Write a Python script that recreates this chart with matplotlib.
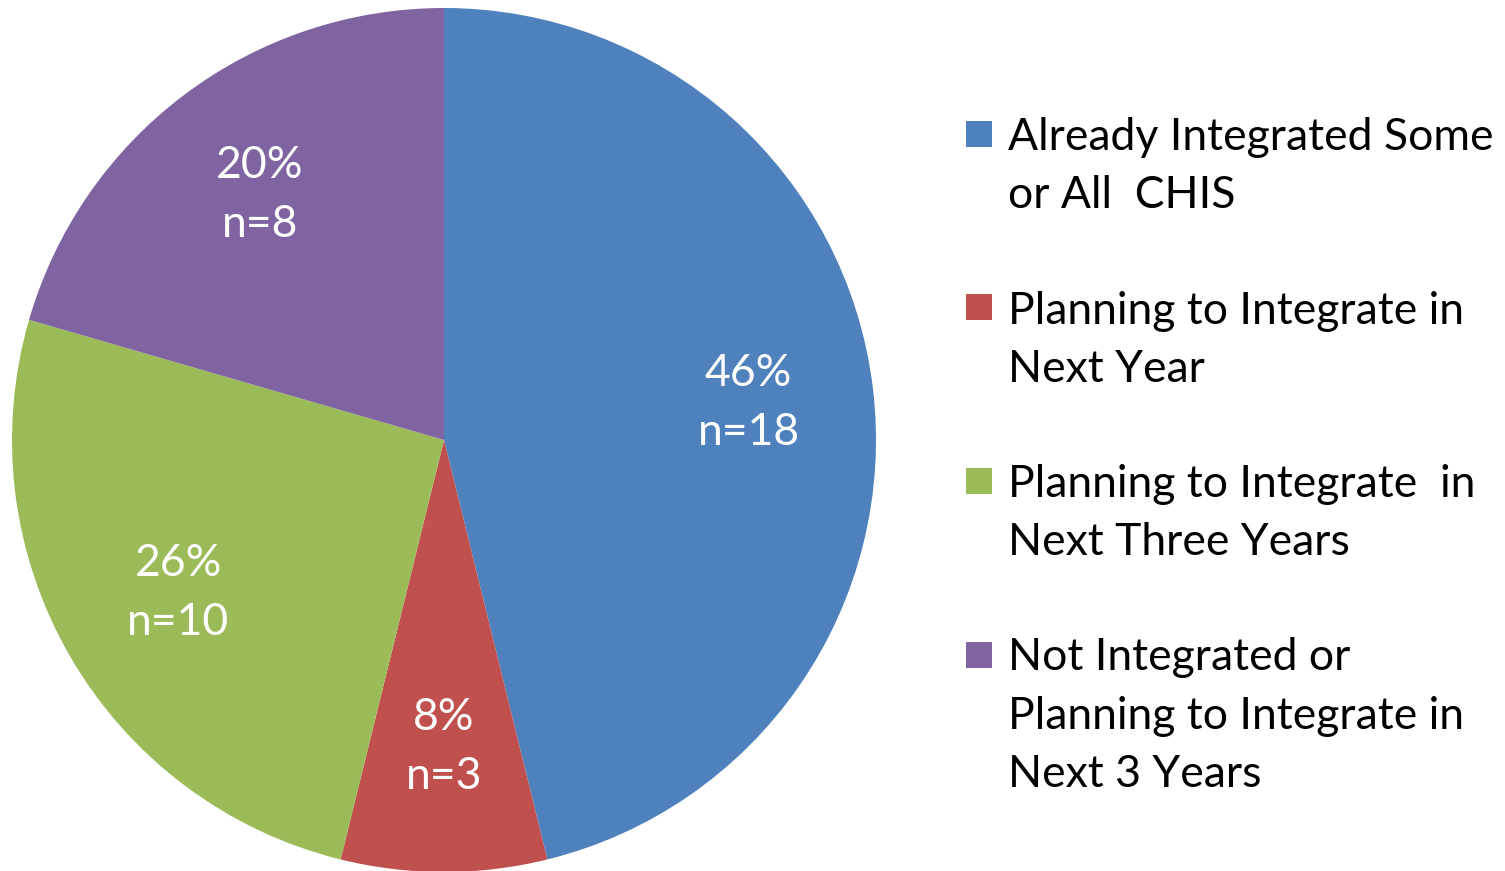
import numpy as np
import matplotlib
matplotlib.use("Agg")
import matplotlib.pyplot as plt
from matplotlib.patches import Rectangle

# Integration status of CHIS (respondent counts and reported shares)
categories = [
    "Already Integrated Some\nor All  CHIS",
    "Planning to Integrate in\nNext Year",
    "Planning to Integrate  in\nNext Three Years",
    "Not Integrated or\nPlanning to Integrate in\nNext 3 Years",
]
counts = [18, 3, 10, 8]
percents = [46, 8, 26, 20]
colors = ["#4F81BD", "#C0504D", "#9BBB59", "#8064A2"]

W, H = 1505, 871
FONT = "Lato"
FS = 32

plt.rcParams["font.family"] = [FONT, "DejaVu Sans"]

fig = plt.figure(figsize=(W / 100, H / 100), dpi=100)
fig.patch.set_facecolor("white")

# pie centred at (444, 440) px with radius 432 px
cx, cy, r = 444, 440, 432
ax = fig.add_axes([(cx - r) / W, (H - cy - r) / H, 2 * r / W, 2 * r / H])

wedges, _, autotexts = ax.pie(
    counts,
    colors=colors,
    startangle=90,
    counterclock=False,
    autopct="%.0f%%",
    pctdistance=0.71,
    radius=1.0,
    wedgeprops=dict(linewidth=0),
    textprops=dict(color="white", fontsize=FS, linespacing=1.54),
)
for t, p, n in zip(autotexts, percents, counts):
    t.set_text(f"{p}%\nn={n}")

ax.set_xlim(-1, 1)
ax.set_ylim(-1, 1)
ax.set_aspect("equal")
ax.axis("off")

# legend drawn by hand so the swatch sits on the first text line
first_base = 150
entry_step = 173.5
line_step = 58
for i, (label, col) in enumerate(zip(categories, colors)):
    base = first_base + entry_step * i
    mid = base - 16
    fig.patches.append(Rectangle((966 / W, 1 - (mid + 13) / H), 26 / W, 26 / H,
                                 transform=fig.transFigure, facecolor=col,
                                 edgecolor="none"))
    for j, line in enumerate(label.split("\n")):
        fig.text(1008 / W, 1 - (base + line_step * j) / H, line,
                 fontsize=FS, color="black", ha="left", va="baseline")

fig.savefig("out.png", dpi=100, facecolor="white")
